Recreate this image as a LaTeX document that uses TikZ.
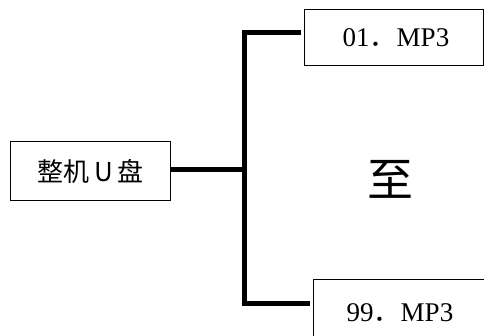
\documentclass[tikz,border=0pt]{standalone}
\usepackage{fontspec}
\setmainfont{Liberation Serif}
\newfontfamily\cjk{Noto Sans CJK SC}
\begin{document}
\begin{tikzpicture}[x=1pt,y=-1pt,
  box/.style={draw=black,line width=1.2pt,inner sep=0pt,anchor=north west},
  bus/.style={line width=5pt,line cap=butt}]
\useasboundingbox (0,0) rectangle (484,335);
\node[box,minimum width=160pt,minimum height=59pt] (u) at (10,141) {};
\node[font=\cjk\fontsize{26}{26}\selectfont] (ut) at (u.center) {整机\,U\,盘};
\node[box,minimum width=179pt,minimum height=56pt] (a) at (304,9) {};
\node[font=\fontsize{27}{27}\selectfont] (at) at (396,38) {01{\cjk ．}MP3};
\node[box,minimum width=185pt,minimum height=70pt] (b) at (313,279) {};
\node[font=\fontsize{27}{27}\selectfont] (bt) at (400,313) {99{\cjk ．}MP3};
\node[font=\cjk\fontsize{46}{46}\selectfont] (z) at (390,179) {至};
\coordinate (ta) at (301,32);
\coordinate (vt) at (244,32);
\coordinate (vm) at (246,169.5);
\coordinate (vb) at (244,303);
\coordinate (tb) at (310,303);
\draw[bus] (u.east |- vm) -- (vm);
\draw[bus,line join=miter] (ta) -- (vt) -- (vb) -- (tb);
\end{tikzpicture}
\end{document}
